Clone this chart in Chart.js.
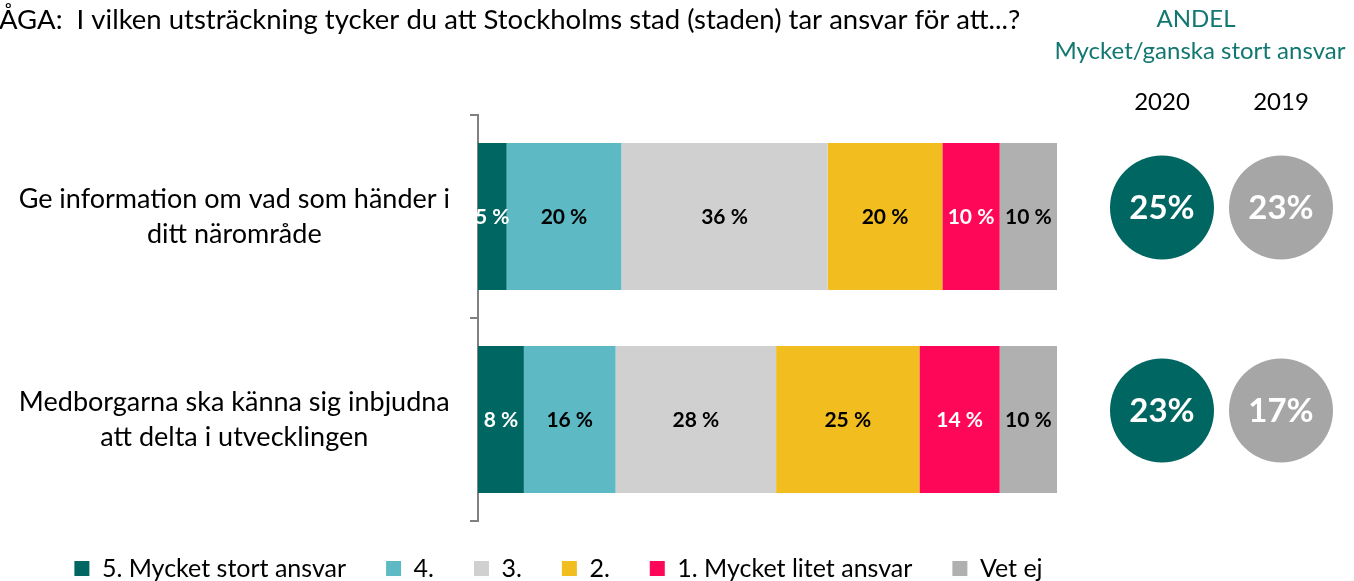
<!DOCTYPE html>
<html>
<head>
<meta charset="utf-8">
<script src="https://cdn.jsdelivr.net/npm/chart.js@4.4.1/dist/chart.umd.min.js"></script>
<style>
  html, body { margin: 0; padding: 0; background: #fff; }
  #wrap { width: 1354px; height: 581px; position: relative; }
</style>
</head>
<body>
<div id="wrap"><canvas id="chart"></canvas></div>
<script>
  // data
  const categories = [
    ["Ge information om vad som händer i", "ditt närområde"],
    ["Medborgarna ska känna sig inbjudna", "att delta i utvecklingen"]
  ];
  const seriesNames = ["5. Mycket stort ansvar", "4.", "3.", "2.", "1. Mycket litet ansvar", "Vet ej"];
  const mycketStort = [5, 8];
  const fyra = [20, 16];
  const tre = [36, 28];
  const tva = [20, 25];
  const mycketLitet = [10, 14];
  const vetEj = [10, 10];
  const andel2020 = [25, 23];
  const andel2019 = [23, 17];
  const years = ["2020", "2019"];

  const FONT = 'Lato, "Open Sans", sans-serif';
  const colors = ["#006661", "#5dbac5", "#d0d0d0", "#f2be1f", "#ff0758", "#b0b0b0"];
  const labelColors = ["#fff", "#000", "#000", "#000", "#fff", "#000"];
  const values = [mycketStort, fyra, tre, tva, mycketLitet, vetEj];

  const segmentLabels = {
    id: "segmentLabels",
    afterDatasetsDraw(chart) {
      const ctx = chart.ctx;
      ctx.save();
      ctx.font = "bold 21px " + FONT;
      ctx.textAlign = "center";
      ctx.textBaseline = "middle";
      chart.data.datasets.forEach((ds, i) => {
        chart.getDatasetMeta(i).data.forEach((bar, j) => {
          const p = bar.getProps(["x", "y", "base"], true);
          ctx.fillStyle = labelColors[i];
          ctx.fillText(ds.data[j] + " %", (p.x + p.base) / 2, p.y + 1);
        });
      });
      ctx.restore();
    }
  };

  // legend in the original sits a little right of the plot's centre and hugs the bottom edge
  const legendShift = {
    id: "legendShift",
    afterLayout(chart) {
      chart.legend.left += 30;
      chart.legend.right += 30;
      chart.legend.top -= 5;
      chart.legend.bottom -= 5;
    }
  };

  const headerAndCircles = {
    id: "headerAndCircles",
    afterDraw(chart) {
      const ctx = chart.ctx;
      const area = chart.chartArea;
      const yScale = chart.scales.y;
      ctx.save();
      ctx.textBaseline = "middle";

      ctx.fillStyle = "#000";
      ctx.textAlign = "left";
      ctx.font = "27.5px " + FONT;
      ctx.fillText("ÅGA:  I vilken utsträckning tycker du att Stockholms stad (staden) tar ansvar för att...?", -1, 20);

      ctx.textAlign = "center";
      ctx.fillStyle = "#127771";
      ctx.font = "24px " + FONT;
      ctx.fillText("ANDEL", area.right + 139, 19);
      ctx.fillText("Mycket/ganska stort ansvar", area.right + 143, 51);

      const cols = [area.right + 105, area.right + 224];
      ctx.fillStyle = "#000";
      years.forEach((yr, k) => ctx.fillText(yr, cols[k], 102));

      const sets = [andel2020, andel2019];
      const fills = ["#006661", "#a6a6a6"];
      sets.forEach((set, k) => {
        set.forEach((v, j) => {
          const cy = yScale.getPixelForValue(j) - 9;
          ctx.beginPath();
          ctx.arc(cols[k], cy, 52, 0, Math.PI * 2);
          ctx.fillStyle = fills[k];
          ctx.fill();
          ctx.fillStyle = "#fff";
          ctx.font = "bold 33px " + FONT;
          ctx.fillText(v + "%", cols[k], cy + 1);
        });
      });
      ctx.restore();
    }
  };

  new Chart(document.getElementById("chart"), {
    type: "bar",
    data: {
      labels: categories,
      datasets: seriesNames.map((name, i) => ({
        label: name,
        data: values[i],
        backgroundColor: colors[i],
        borderWidth: 0,
        categoryPercentage: 1,
        barPercentage: 0.725
      }))
    },
    options: {
      indexAxis: "y",
      responsive: true,
      maintainAspectRatio: false,
      animation: false,
      layout: { padding: { top: 115, right: 297, left: 0, bottom: -15 } },
      plugins: {
        legend: {
          position: "bottom",
          labels: {
            boxWidth: 15,
            boxHeight: 15,
            padding: 40,
            color: "#000",
            font: { family: FONT, size: 25 }
          }
        },
        tooltip: { enabled: false }
      },
      scales: {
        x: { stacked: true, display: false, min: 0, max: 101 },
        y: {
          stacked: true,
          afterFit(scale) { scale.width = 478; },
          grid: { drawOnChartArea: false, tickLength: 8, color: "#808080", lineWidth: 2 },
          border: { color: "#808080", width: 2 },
          ticks: {
            color: "#000",
            crossAlign: "center",
            padding: 20,
            font: { family: FONT, size: 27, lineHeight: 1.3 }
          }
        }
      }
    },
    plugins: [segmentLabels, legendShift, headerAndCircles]
  });
</script>
</body>
</html>
